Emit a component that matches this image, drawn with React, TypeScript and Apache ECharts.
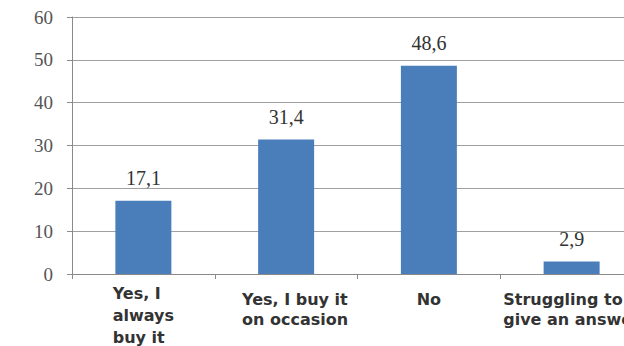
import React, { useEffect, useRef } from "react";
import * as echarts from "echarts";

// Survey answers and their shares (%)
const categories: string[] = [
  "Yes, I\nalways\nbuy it",
  "Yes, I buy it\non occasion",
  "No",
  "Struggling to\ngive an answer",
];
const shares: number[] = [17.1, 31.4, 48.6, 2.9];
const yTicks = { min: 0, max: 60, interval: 10 };

const LABEL_FONT = "'DejaVu Sans', Verdana, sans-serif";
const NUM_FONT = "'Liberation Serif', 'Times New Roman', serif";

// per-category nudges of the axis label block: [top, right, bottom, left]
const labelPadding: number[][] = [
  [0, 0, 0, 0],
  [7, 0, 0, 18],
  [7, 0, 0, 0],
  [7, 0, 0, 0],
];

export default function App() {
  const ref = useRef<HTMLDivElement>(null);

  useEffect(() => {
    if (!ref.current) return;
    const chart = echarts.init(ref.current, undefined, { renderer: "svg" });

    const categoryItems = categories.map((c, i) => ({
      value: c,
      textStyle: { padding: labelPadding[i] },
    }));

    chart.setOption({
      animation: false,
      backgroundColor: "#ffffff",
      // the plot runs past the right edge of the visible frame
      grid: { left: 72, top: 17, width: 571, height: 257, containLabel: false },
      xAxis: {
        type: "category",
        data: categoryItems,
        axisLine: { show: true, lineStyle: { color: "#8a8a8a", width: 1 } },
        axisTick: { show: true, length: 5, lineStyle: { color: "#8a8a8a" } },
        axisLabel: {
          interval: 0,
          margin: 8,
          verticalAlign: "top",
          formatter: (v: string) => {
            const parts = v.split("\n");
            const key = parts.length >= 3 ? "t" : "l";
            return parts.map((p) => `{${key}|${p}}`).join("\n");
          },
          rich: {
            l: {
              align: "left",
              fontFamily: LABEL_FONT,
              fontWeight: "bold",
              fontSize: 16,
              lineHeight: 20,
              color: "#333333",
            },
            t: {
              align: "left",
              fontFamily: LABEL_FONT,
              fontWeight: "bold",
              fontSize: 16,
              lineHeight: 22,
              color: "#333333",
            },
          },
        },
      },
      yAxis: {
        type: "value",
        min: yTicks.min,
        max: yTicks.max,
        interval: yTicks.interval,
        axisLine: { show: true, lineStyle: { color: "#8a8a8a", width: 1 } },
        axisTick: { show: true, length: 5, lineStyle: { color: "#8a8a8a" } },
        axisLabel: {
          margin: 19,
          fontFamily: NUM_FONT,
          fontSize: 19,
          color: "#555555",
        },
        splitLine: { show: true, lineStyle: { color: "#a0a0a0", width: 1 } },
      },
      series: [
        {
          type: "bar",
          data: shares,
          barWidth: 56,
          itemStyle: { color: "#4a7ebb" },
          label: {
            show: true,
            position: "top",
            distance: 13,
            fontFamily: NUM_FONT,
            fontSize: 20,
            color: "#333333",
            formatter: (p: any) => String(p.value).replace(".", ","),
          },
        },
      ],
    });

    return () => chart.dispose();
  }, []);

  return (
    <div
      style={{
        position: "fixed",
        left: 0,
        top: 0,
        width: 624,
        height: 346,
        overflow: "hidden",
        background: "#ffffff",
      }}
    >
      <div ref={ref} style={{ width: 660, height: 346 }} />
    </div>
  );
}
